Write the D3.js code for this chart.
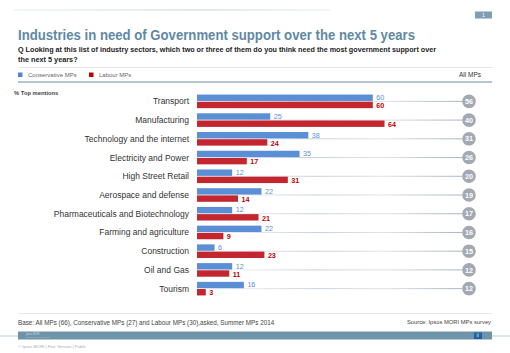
<!DOCTYPE html>
<html>
<head>
<meta charset="UTF-8">
<title>Industries in need of Government support</title>
<script src="https://cdn.jsdelivr.net/npm/d3@7"></script>
<style>
  body { margin: 0; background: #fff; }
  svg text { font-family: "Liberation Sans", Arial, sans-serif; }
</style>
</head>
<body>
<div id="chart"></div>
<script>
// data
var industries = ["Transport", "Manufacturing", "Technology and the internet", "Electricity and Power",
  "High Street Retail", "Aerospace and defense", "Pharmaceuticals and Biotechnology",
  "Farming and agriculture", "Construction", "Oil and Gas", "Tourism"];
var conservative = [60, 25, 38, 35, 12, 22, 12, 22, 6, 12, 16];
var labour = [60, 64, 24, 17, 31, 14, 21, 9, 23, 11, 3];
var allMPs = [56, 40, 31, 26, 20, 19, 17, 16, 15, 12, 12];
var seriesNames = ["Conservative MPs", "Labour MPs"];

var width = 510, height = 353;
var blue = "#5a8fd5", red = "#c3262e";

var svg = d3.select("#chart").append("svg")
  .attr("width", width).attr("height", height);

var defs = svg.append("defs");
var g1 = defs.append("linearGradient").attr("id", "rowline");
g1.append("stop").attr("offset", "0%").attr("stop-color", "#ffffff");
g1.append("stop").attr("offset", "45%").attr("stop-color", "#c9d0d9");
g1.append("stop").attr("offset", "70%").attr("stop-color", "#dfe3e8");
g1.append("stop").attr("offset", "100%").attr("stop-color", "#aab2bd");
var g2 = defs.append("linearGradient").attr("id", "topline");
g2.append("stop").attr("offset", "0%").attr("stop-color", "#e8eef2");
g2.append("stop").attr("offset", "60%").attr("stop-color", "#c3d0da");
g2.append("stop").attr("offset", "100%").attr("stop-color", "#e8eef2");

// header
svg.append("rect").attr("x", 13).attr("y", 9.5).attr("width", 318).attr("height", 1)
  .attr("fill", "url(#topline)");
svg.append("rect").attr("x", 475).attr("y", 11.5).attr("width", 17).attr("height", 7).attr("fill", "#7f9db3");
svg.append("text").attr("x", 483.5).attr("y", 17).attr("text-anchor", "middle")
  .attr("font-size", 5).attr("fill", "#fff").text("1");

svg.append("text").attr("x", 18).attr("y", 39.5)
  .attr("font-size", 14).attr("font-weight", "bold").attr("fill", "#5f89a3")
  .attr("textLength", 397).attr("lengthAdjust", "spacingAndGlyphs")
  .text("Industries in need of Government support over the next 5 years");
svg.append("text").attr("x", 18).attr("y", 51.5)
  .attr("font-size", 7.3).attr("font-weight", "bold").attr("fill", "#222")
  .attr("textLength", 418).attr("lengthAdjust", "spacingAndGlyphs")
  .text("Q Looking at this list of industry sectors, which two or three of them do you think need the most government support over");
svg.append("text").attr("x", 18).attr("y", 62)
  .attr("font-size", 7.3).attr("font-weight", "bold").attr("fill", "#222")
  .text("the next 5 years?");
svg.append("line").attr("x1", 18).attr("x2", 492).attr("y1", 67.5).attr("y2", 67.5)
  .attr("stroke", "#e3e7eb").attr("stroke-width", 1);

// legend
var legend = svg.append("g");
[blue, red].forEach(function(c, i) {
  var lx = i === 0 ? 18 : 89;
  legend.append("rect").attr("x", lx).attr("y", 72.5).attr("width", 4.5).attr("height", 4.5).attr("fill", i === 0 ? "#4f86cf" : "#c00000");
  legend.append("text").attr("x", lx + 10).attr("y", 77)
    .attr("font-size", 6).attr("fill", "#666")
    .text(seriesNames[i]);
});
svg.append("text").attr("x", 481).attr("y", 77).attr("text-anchor", "end")
  .attr("font-size", 6.5).attr("fill", "#333").text("All MPs");
svg.append("line").attr("x1", 18).attr("x2", 492).attr("y1", 82).attr("y2", 82)
  .attr("stroke", "#9db3c3").attr("stroke-width", 1.3);

svg.append("text").attr("x", 14).attr("y", 95)
  .attr("font-size", 5.8).attr("font-weight", "bold").attr("fill", "#444").text("% Top mentions");

// scales
var x = d3.scaleLinear().domain([0, 100]).range([197, 490]);
var y = d3.scaleBand().domain(industries).range([92, 298]);
var barH = 6.4;

var rows = svg.append("g").selectAll("g.row")
  .data(industries)
  .enter().append("g")
  .attr("class", "row")
  .attr("transform", function(d) { return "translate(0," + (y(d) + y.bandwidth() / 2) + ")"; });

// connector lines
rows.append("rect")
  .attr("x", x(0)).attr("y", -0.5).attr("width", 462 - x(0)).attr("height", 1)
  .attr("fill", "url(#rowline)");

// category labels
rows.append("text")
  .attr("x", 189).attr("y", 3)
  .attr("text-anchor", "end").attr("font-size", 8.5).attr("fill", "#333")
  .text(function(d) { return d; });

// conservative bars
rows.append("rect")
  .attr("x", x(0)).attr("y", -barH - 0.4)
  .attr("width", function(d, i) { return x(conservative[i]) - x(0); })
  .attr("height", barH).attr("fill", blue);
rows.append("text")
  .attr("x", function(d, i) { return x(conservative[i]) + 3.5; })
  .attr("y", -1.3)
  .attr("font-size", 7.2).attr("fill", blue)
  .text(function(d, i) { return conservative[i]; });

// labour bars
rows.append("rect")
  .attr("x", x(0)).attr("y", 0.4)
  .attr("width", function(d, i) { return x(labour[i]) - x(0); })
  .attr("height", barH).attr("fill", red);
rows.append("text")
  .attr("x", function(d, i) { return x(labour[i]) + 3.5; })
  .attr("y", 6.8)
  .attr("font-size", 7.2).attr("font-weight", "bold").attr("fill", "#c00000")
  .text(function(d, i) { return labour[i]; });

// all MPs circles
rows.append("circle").attr("cx", 469).attr("cy", 0).attr("r", 6.8).attr("fill", "#a3a9b3");
rows.append("text")
  .attr("x", 469).attr("y", 2.6).attr("text-anchor", "middle")
  .attr("font-size", 7.2).attr("font-weight", "bold").attr("fill", "#fff")
  .text(function(d, i) { return allMPs[i]; });

// footer
svg.append("line").attr("x1", 18).attr("x2", 492).attr("y1", 313.5).attr("y2", 313.5)
  .attr("stroke", "#e6e9ec").attr("stroke-width", 1);
svg.append("text").attr("x", 18).attr("y", 324.5)
  .attr("font-size", 6.3).attr("fill", "#444")
  .text("Base: All MPs (66), Conservative MPs (27) and Labour MPs (30),asked, Summer MPs 2014");
svg.append("text").attr("x", 491).attr("y", 324)
  .attr("text-anchor", "end").attr("font-size", 5.8).attr("fill", "#444")
  .text("Source: Ipsos MORI MPs survey");

svg.append("line").attr("x1", 0).attr("x2", 18).attr("y1", 336).attr("y2", 336)
  .attr("stroke", "#a9bfcd").attr("stroke-width", 0.8);
svg.append("line").attr("x1", 492).attr("x2", 510).attr("y1", 336).attr("y2", 336)
  .attr("stroke", "#a9bfcd").attr("stroke-width", 0.8);
svg.append("rect").attr("x", 18).attr("y", 331.5).attr("width", 474).attr("height", 8)
  .attr("fill", "#6f93a9");
svg.append("text").attr("x", 26).attr("y", 335).attr("font-size", 2.6).attr("fill", "#c9d7e0").text("Ipsos MORI");
svg.append("text").attr("x", 26).attr("y", 338).attr("font-size", 2.2).attr("fill", "#b6c8d4").text("Social Research Institute");
svg.append("rect").attr("x", 474).attr("y", 332.5).attr("width", 8).attr("height", 6.5).attr("fill", "#2d5aa0");
svg.append("rect").attr("x", 476.5).attr("y", 333.5).attr("width", 2.5).attr("height", 3.5).attr("fill", "#3fb3b0");

svg.append("text").attr("x", 18).attr("y", 348)
  .attr("font-size", 4.2).attr("fill", "#aaa")
  .text("© Ipsos MORI | Fee: Version | Public");
</script>
</body>
</html>
